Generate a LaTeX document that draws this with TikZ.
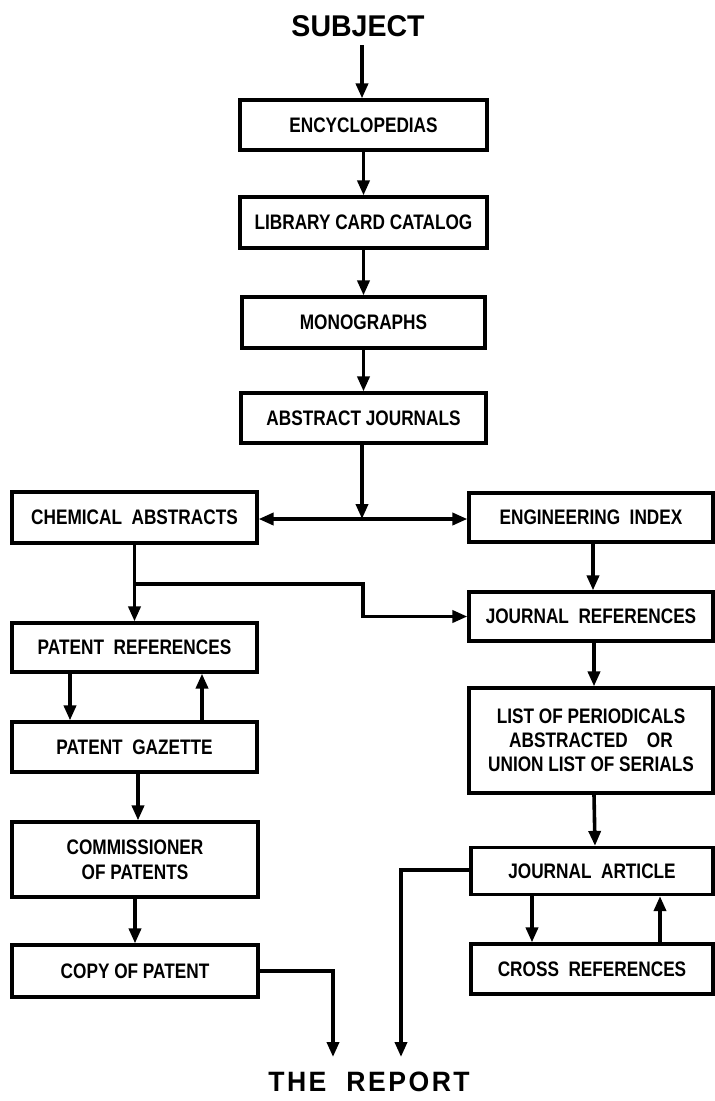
\documentclass[tikz,border=0pt]{standalone}
\usepackage{fontspec}
\setmainfont{Liberation Sans}
\newfontfamily\boxfont{Liberation Sans Bold}[FakeStretch=0.82]
\newfontfamily\titlefont{Liberation Sans Bold}[FakeStretch=0.95]
\newfontfamily\reportfont{Liberation Sans Bold}[FakeStretch=0.95,LetterSpace=9]
\usetikzlibrary{arrows.meta}
\begin{document}
\begin{tikzpicture}[x=1pt,y=-1pt,
  box/.style={draw, line width=3.2pt, rectangle, inner sep=0pt, align=center,
    font=\boxfont\fontsize{21}{25}\selectfont},
  arr/.style={line width=3.6pt, -{Triangle[length=15pt,width=12pt]}},
  title/.style={font=\titlefont\fontsize{30}{34}\selectfont, inner sep=0pt}]
\useasboundingbox (0,0) rectangle (715,1101);

% titles
\node[title] (subj) at (358,26) {SUBJECT};
\node[title, font=\reportfont\fontsize{28}{32}\selectfont] (rep) at (369,1082) {THE\ \ REPORT};

% centre column
\node[box, minimum width=247pt, minimum height=50pt] (enc)  at (363.5,125)   {ENCYCLOPEDIAS};
\node[box, minimum width=247pt, minimum height=51pt] (lib)  at (363.5,222.5) {LIBRARY CARD CATALOG};
\node[box, minimum width=243pt, minimum height=51pt] (mono) at (363.5,322.5) {MONOGRAPHS};
\node[box, minimum width=245pt, minimum height=50pt] (absj) at (363.5,418)   {ABSTRACT JOURNALS};

% left column
\node[box, minimum width=245pt, minimum height=51pt] (chem) at (134.5,517.5) {CHEMICAL\ \ ABSTRACTS};
\node[box, minimum width=245pt, minimum height=49pt] (pref) at (134.5,647.5) {PATENT\ \ REFERENCES};
\node[box, minimum width=245pt, minimum height=50pt] (pgaz) at (134.5,747)   {PATENT\ \ GAZETTE};
\node[box, minimum width=246pt, minimum height=75pt] (comm) at (135,859.5)   {COMMISSIONER\\OF PATENTS};
\node[box, minimum width=246pt, minimum height=52pt] (copy) at (135,971)     {COPY OF PATENT};

% right column
\node[box, minimum width=244pt, minimum height=49pt] (eng)  at (591,517.5) {ENGINEERING\ \ INDEX};
\node[box, minimum width=244pt, minimum height=49pt] (jref) at (591,616.5) {JOURNAL\ \ REFERENCES};
\node[box, minimum width=244pt, minimum height=105pt, font=\boxfont\fontsize{21}{24}\selectfont] (list) at (591,740.5)
  {LIST OF PERIODICALS\\ABSTRACTED\ \ \ \ OR\\UNION LIST OF SERIALS};
\node[box, minimum width=242pt, minimum height=47pt] (jart)  at (592,871) {JOURNAL\ \ ARTICLE};
\node[box, minimum width=242pt, minimum height=50pt] (cross) at (592,969) {CROSS\ \ REFERENCES};

% coordinates
\coordinate (J)  at (362,519);
\coordinate (B1) at (134.5,584);
\coordinate (B2) at (363,584);
\coordinate (R1) at (333,1057);
\coordinate (R2) at (401,1057);
\coordinate (S0) at (362,45);

% connectors, centre
\draw[arr] (S0) -- (S0 |- enc.north);
\draw[arr] (enc.south) -- (lib.north);
\draw[arr] (lib.south) -- (mono.north);
\draw[arr] (mono.south) -- (absj.north);
\draw[arr] (J |- absj.south) -- (J);
\draw[arr] (J) -- (J -| chem.east);
\draw[arr] (J) -- (J -| eng.west);

% left
\draw[arr] (chem.south) -- (pref.north);
\draw[arr] (B1) -- (B2) |- (jref.west);
\draw[arr] ([xshift=-64.5pt]pref.south) -- ([xshift=-64.5pt]pgaz.north);
\draw[arr] ([xshift=67.5pt]pgaz.north) -- ([xshift=67.5pt]pref.south);
\draw[arr] ([xshift=3.5pt]pgaz.south) -- ([xshift=3pt]comm.north);
\draw[arr] (comm.south) -- (copy.north);
\draw[arr] (copy.east) -| (R1);

% right
\draw[arr] ([xshift=2pt]eng.south) -- ([xshift=2pt]jref.north);
\draw[arr] ([xshift=3pt]jref.south) -- ([xshift=3pt]list.north);
\draw[arr] ([xshift=3pt]list.south) -- ([xshift=3pt]jart.north);
\draw[arr] ([xshift=-60pt]jart.south) -- ([xshift=-60pt]cross.north);
\draw[arr] ([xshift=68pt]cross.north) -- ([xshift=68pt]jart.south);
\draw[arr] ([yshift=1pt]jart.west) -| (R2);
\end{tikzpicture}
\end{document}
